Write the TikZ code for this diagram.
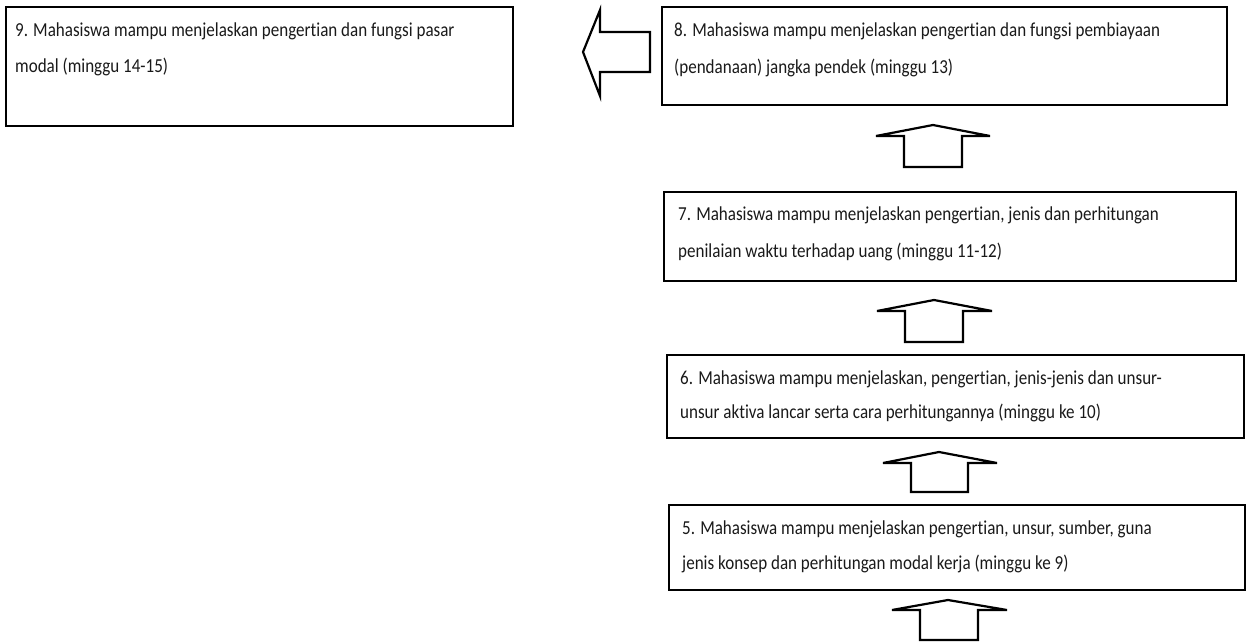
\documentclass[tikz,border=0pt]{standalone}
\usepackage{fontspec}
\setmainfont{Carlito}[FakeStretch=0.86, RawFeature=-liga]
\begin{document}
\begin{tikzpicture}[x=1pt,y=-1pt,
  box/.style={draw=black, line width=2.4pt, inner sep=0pt, anchor=north west},
  txt/.style={anchor=base west, inner sep=0pt, font=\fontsize{19.8}{22}\selectfont, text=black!90},
  barrow/.style={draw=black, line width=2.2pt, line join=miter, fill=white}]
\useasboundingbox (0,0) rectangle (1246,644);
% boxes
\node[box, minimum width=507pt, minimum height=119pt] (b9) at (5,6) {};
\node[box, minimum width=565pt, minimum height=98pt] (b8) at (661,6) {};
\node[box, minimum width=572pt, minimum height=89pt] (b7) at (663,191) {};
\node[box, minimum width=577pt, minimum height=83pt] (b6) at (666,354) {};
\node[box, minimum width=576pt, minimum height=85pt] (b5) at (668,504) {};
% texts
\node[txt] (t9a) at (15,37) {9. Mahasiswa mampu menjelaskan pengertian dan fungsi pasar};
\node[txt] (t9b) at (15,73) {modal (minggu 14-15)};
\node[txt] (t8a) at (674,37) {8. Mahasiswa mampu menjelaskan pengertian dan fungsi pembiayaan};
\node[txt] (t8b) at (674,74) {(pendanaan) jangka pendek (minggu 13)};
\node[txt] (t7a) at (678,221) {7. Mahasiswa mampu menjelaskan pengertian, jenis dan perhitungan};
\node[txt] (t7b) at (678,257) {penilaian waktu terhadap uang (minggu 11-12)};
\node[txt] (t6a) at (680,384) {6. Mahasiswa mampu menjelaskan, pengertian, jenis-jenis dan unsur-};
\node[txt] (t6b) at (680,418) {unsur aktiva lancar serta cara perhitungannya (minggu ke 10)};
\node[txt] (t5a) at (682,534) {5. Mahasiswa mampu menjelaskan pengertian, unsur, sumber, guna};
\node[txt] (t5b) at (682,569) {jenis konsep dan perhitungan modal kerja (minggu ke 9)};
% left block arrow (8 -> 9)
\draw[barrow] (650,32) -- (600,32) -- (600,10) -- (583,52) -- (600,96) -- (600,72) -- (650,72) -- cycle;
% up block arrows
\draw[barrow] (876,136) -- (933,125) -- (990,136) -- (962,136) -- (962,167) -- (904,167) -- (904,136) -- cycle;
\draw[barrow] (877,311) -- (934,300) -- (992,311) -- (963,311) -- (963,342) -- (905,342) -- (905,311) -- cycle;
\draw[barrow] (883,463) -- (939,452) -- (997,463) -- (968,463) -- (968,492) -- (911,492) -- (911,463) -- cycle;
\draw[barrow] (892,610) -- (948,600) -- (1007,610) -- (978,610) -- (978,640) -- (920,640) -- (920,610) -- cycle;
\end{tikzpicture}
\end{document}
